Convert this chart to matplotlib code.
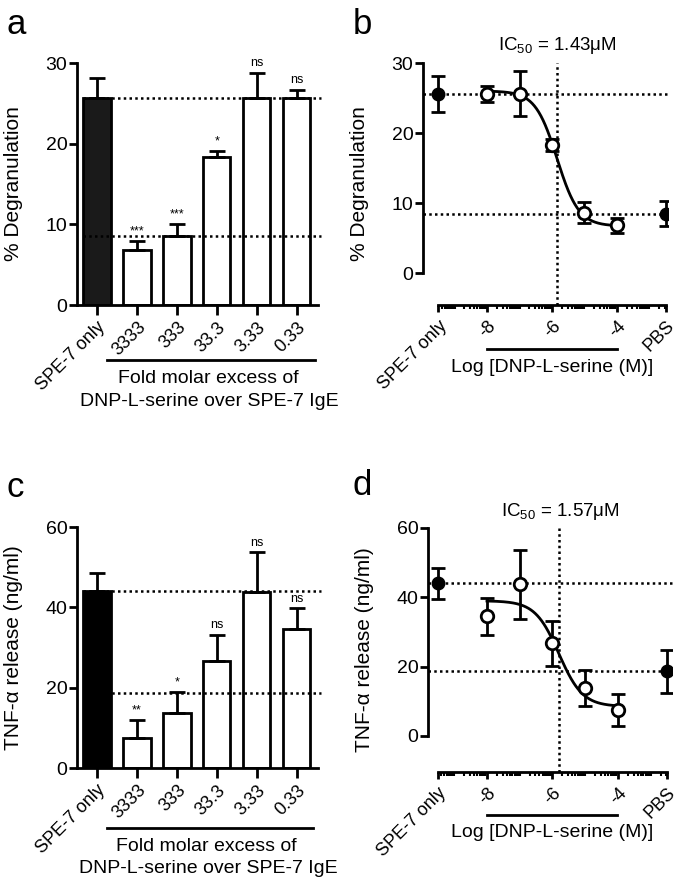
import numpy as np
import matplotlib
matplotlib.use('Agg')
import matplotlib.pyplot as plt
from matplotlib.lines import Line2D

plt.rcParams['font.family'] = ['Liberation Sans', 'DejaVu Sans']
plt.rcParams['mathtext.default'] = 'regular'

# ---- data ----
groups = ['SPE-7 only', '3333', '333', '33.3', '3.33', '0.33']
log_conc = [-4, -5, -6, -7, -8]          # same samples as groups[1:]

degran_mean = [25.6, 6.8, 8.6, 18.3, 25.6, 25.6]
degran_sem = [2.6, 1.1, 1.5, 0.8, 3.2, 1.1]
degran_sig = ['', '***', '***', '*', 'ns', 'ns']
degran_pbs = [8.5, 1.8]
degran_fit = [26.0, 6.7, np.log10(1.43e-6), 1.3]   # top, bottom, logIC50, hill

tnf_mean = [44.0, 7.5, 13.8, 26.7, 43.7, 34.5]
tnf_sem = [4.5, 4.5, 5.2, 6.5, 10.0, 5.3]
tnf_sig = ['', '**', '*', 'ns', 'ns', 'ns']
tnf_pbs = [18.6, 6.3]
tnf_fit = [39.0, 8.5, np.log10(1.57e-6), 1.2]

W, H = 685, 888
fig = plt.figure(figsize=(6.85, 8.88), dpi=100)


def px_axes(left, top, right, bottom):
    return fig.add_axes([left / W, 1 - bottom / H, (right - left) / W, (bottom - top) / H])


def dotted(ax, xs, ys, z=1):
    ax.plot(xs, ys, color='black', lw=1.8, ls=(0, (1, 1.3)), zorder=z, clip_on=False)


def bar_panel(ax, means, errs, sig, pbs, ymax, step, ylabel, first_color):
    x = np.arange(len(means))
    colors = [first_color] + ['white'] * (len(means) - 1)
    ax.bar(x, means, width=0.68, color=colors, edgecolor='black', linewidth=2, zorder=2)
    ax.errorbar(x, means, yerr=[np.zeros(len(means)), errs], fmt='none', ecolor='black',
                elinewidth=2, capsize=5.5, capthick=2, zorder=3)
    for xi, m, e, s in zip(x, means, errs, sig):
        ax.annotate(s, (xi, m + e), xytext=(0, 2.5), textcoords='offset points',
                    ha='center', va='bottom', fontsize=9)
    for r in [means[0], pbs]:
        dotted(ax, [-0.35, 5.6], [r, r], z=4)
    ax.set_xlim(-0.5, 5.53)
    ax.set_ylim(0, ymax)
    for s in ['top', 'right']:
        ax.spines[s].set_visible(False)
    for s in ['left', 'bottom']:
        ax.spines[s].set_linewidth(2)
    ax.set_xticks(x, groups, rotation=45, ha='right', rotation_mode='anchor', fontsize=13)
    ax.set_yticks(np.arange(0, ymax + 1, step))
    ax.tick_params(axis='y', width=2, length=6, labelsize=14, pad=1)
    ax.tick_params(axis='x', width=2, length=7, pad=3)
    ax.set_ylabel(ylabel, fontsize=15)
    ax.yaxis.set_label_coords(-0.224, 0.5)


def dose_panel(ax, means, errs, pbs, fit, ymax, step, ylow, xlim, ylabel):
    top, bottom, logic50, hill = fit
    ctrl_x, pbs_x = -9.5, -2.5
    # reference lines
    dotted(ax, [xlim[0], xlim[1]], [means[0], means[0]])
    dotted(ax, [xlim[0], xlim[1]], [pbs[0], pbs[0]])
    dotted(ax, [logic50, logic50], [ylow, ymax])
    # fitted curve
    xs = np.linspace(-8, -4, 300)
    ys = bottom + (top - bottom) / (1 + 10 ** (hill * (xs - logic50)))
    ax.plot(xs, ys, color='black', lw=2, zorder=3)
    ax.errorbar(log_conc, means[1:], yerr=errs[1:], fmt='o', mfc='white', mec='black',
                mew=2, ms=9, ecolor='black', elinewidth=2, capsize=5, capthick=2, zorder=5)
    ax.errorbar([ctrl_x, pbs_x], [means[0], pbs[0]], yerr=[errs[0], pbs[1]], fmt='o',
                color='black', ms=9, elinewidth=2, capsize=5, capthick=2, zorder=5)
    ax.set_xlim(*xlim)
    ax.set_ylim(ylow, ymax)
    for s in ['top', 'right']:
        ax.spines[s].set_visible(False)
    for s in ['left', 'bottom']:
        ax.spines[s].set_linewidth(2)
    ax.spines['left'].set_bounds(0, ymax)
    ax.spines['bottom'].set_bounds(ctrl_x, pbs_x)
    ax.set_yticks(np.arange(0, ymax + 1, step))
    ax.set_xticks([ctrl_x, -8, -6, -4, pbs_x], ['SPE-7 only', '-8', '-6', '-4', 'PBS'],
                  rotation=45, ha='right', rotation_mode='anchor', fontsize=13)
    minor = [d + np.log10(k) for d in range(-10, -2) for k in range(1, 10)]
    minor = [m for m in minor if ctrl_x < m < pbs_x and m not in (-8, -6, -4)]
    ax.set_xticks(minor, minor=True)
    ax.tick_params(axis='y', width=2, length=6, labelsize=14, pad=1)
    ax.tick_params(axis='x', which='major', width=2, length=5, pad=4)
    ax.tick_params(axis='x', which='minor', width=1.5, length=3)
    ax.set_ylabel(ylabel, fontsize=15)
    ax.yaxis.set_label_coords(-0.22, 0.5)


ax_a = px_axes(77, 63, 318, 305)
bar_panel(ax_a, degran_mean, degran_sem, degran_sig, degran_pbs[0], 30, 10,
          '% Degranulation', '#1a1a1a')

ax_c = px_axes(77, 527, 318, 768)
bar_panel(ax_c, tnf_mean, tnf_sem, tnf_sig, tnf_pbs[0], 60, 20,
          'TNF-α release (ng/ml)', 'black')

ax_b = px_axes(423, 63, 668, 305)
dose_panel(ax_b, degran_mean, degran_sem, degran_pbs, degran_fit, 30, 10, -4.57,
           (-9.97, -2.43), '% Degranulation')

ax_d = px_axes(428, 528, 672, 772)
dose_panel(ax_d, tnf_mean, tnf_sem, tnf_pbs, tnf_fit, 60, 20, -10.4,
           (-9.8, -2.35), 'TNF-α release (ng/ml)')


def fig_line(x0, x1, y):
    fig.add_artist(Line2D([x0 / W, x1 / W], [1 - y / H, 1 - y / H], color='black', lw=2))


def fig_text(x, y, s, **kw):
    fig.text(x / W, 1 - y / H, s, **kw)


# group captions under the x axes
fig_line(107, 315, 360)
fig_text(208, 378, 'Fold molar excess of', ha='center', va='center', fontsize=14)
fig_text(209, 401, 'DNP-L-serine over SPE-7 IgE', ha='center', va='center', fontsize=14)
fig_line(107, 313, 828)
fig_text(206, 846, 'Fold molar excess of', ha='center', va='center', fontsize=14)
fig_text(208, 868, 'DNP-L-serine over SPE-7 IgE', ha='center', va='center', fontsize=14)

fig_line(487, 617, 349)
fig_text(552, 367, 'Log [DNP-L-serine (M)]', ha='center', va='center', fontsize=14)
fig_line(487, 617, 815)
fig_text(552, 832, 'Log [DNP-L-serine (M)]', ha='center', va='center', fontsize=14)

fig_text(557, 45, r'IC$_{50}$ = 1.43μM', ha='center', va='center', fontsize=13.5)
fig_text(560, 512, r'IC$_{50}$ = 1.57μM', ha='center', va='center', fontsize=13.5)

# panel letters
for letter, x, y in [('a', 6, 24), ('b', 353, 24), ('c', 6, 487), ('d', 353, 485)]:
    fig_text(x, y, letter, ha='left', va='center', fontsize=25)

fig.savefig('out.png', dpi=100)
